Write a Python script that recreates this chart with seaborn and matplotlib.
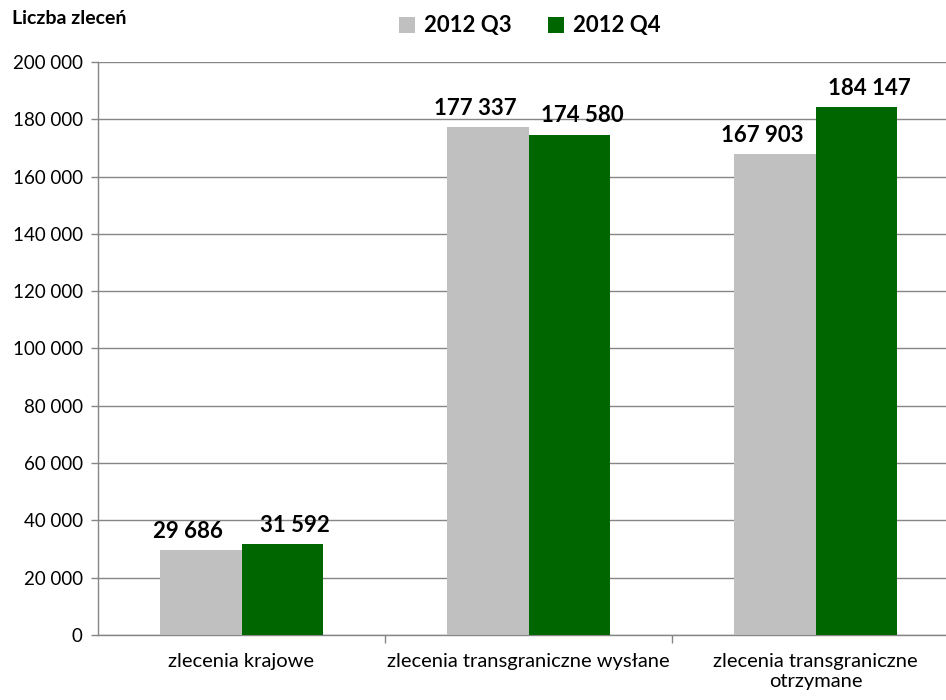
import pandas as pd
import numpy as np
import matplotlib.pyplot as plt
import seaborn as sns
from matplotlib.ticker import FuncFormatter, FixedLocator

categories = ['zlecenia krajowe', 'zlecenia transgraniczne wysłane', 'zlecenia transgraniczne\notrzymane']
q3_values = [29686, 177337, 167903]
q4_values = [31592, 174580, 184147]
series = ['2012 Q3', '2012 Q4']
y_ticks = list(range(0, 200001, 20000))

sns.set_style('white')
plt.rcParams['font.family'] = ['Lato', 'DejaVu Sans']
plt.rcParams['text.color'] = 'black'
plt.rcParams['xtick.color'] = 'black'
plt.rcParams['ytick.color'] = 'black'

df = pd.DataFrame({
    'kategoria': categories * 2,
    'okres': [series[0]] * 3 + [series[1]] * 3,
    'liczba': q3_values + q4_values,
})

fig = plt.figure(figsize=(9.46, 7.0), dpi=100)
# obszar wykresu wychodzi poza prawą krawędź, jak w oryginale
ax = fig.add_axes([98 / 946, 65 / 700, 861 / 946, 573 / 700])

sns.barplot(data=df, x='kategoria', y='liczba', hue='okres',
            palette=['#C0C0C0', '#006600'], width=0.57, gap=0,
            saturation=1, linewidth=0, ax=ax, legend=True, zorder=3)

ax.set_ylim(0, 200000)
ax.set_xlim(-0.5, 2.5)
ax.yaxis.set_major_locator(FixedLocator(y_ticks))
ax.yaxis.set_major_formatter(FuncFormatter(lambda v, p: f'{int(v):,}'.replace(',', ' ')))
ax.grid(axis='y', color='#868686', linewidth=1, zorder=0)
ax.set_axisbelow(True)
ax.set_xlabel('')
ax.set_ylabel('')

for s in ['top', 'right']:
    ax.spines[s].set_visible(False)
for s in ['left', 'bottom']:
    ax.spines[s].set_color('#868686')
    ax.spines[s].set_linewidth(1)

ax.tick_params(axis='y', which='major', left=True, length=5, width=1, color='#868686',
               labelsize=13.5, pad=6, labelcolor='black')
ax.tick_params(axis='x', which='major', length=0, labelsize=14.5, pad=13, labelcolor='black')
ax.xaxis.set_minor_locator(FixedLocator([0.5, 1.5]))
ax.tick_params(axis='x', which='minor', bottom=True, length=6, width=1, color='#868686')

# etykiety wartości, lekko rozsunięte na boki jak w Excelu
for cont, dx in zip(ax.containers, [-9, 9]):
    for bar, v in zip(cont, cont.datavalues):
        ax.annotate(f'{int(v):,}'.replace(',', ' '),
                    (bar.get_x() + bar.get_width() / 2, bar.get_height()),
                    xytext=(dx, 6), textcoords='offset points',
                    ha='center', va='bottom', fontsize=16, fontweight='bold')

handles, labels = ax.get_legend_handles_labels()
ax.legend_.remove()
fig.legend(handles, labels, loc='center', bbox_to_anchor=(0.56, 0.963), ncol=2,
           frameon=False, prop={'size': 16, 'weight': 'bold'},
           handlelength=0.75, handleheight=0.75, handletextpad=0.4, columnspacing=1.6)

fig.text(12 / 946, 1 - 18 / 700, 'Liczba zleceń', fontsize=14, fontweight='bold', va='center')

fig.savefig('out.png', dpi=100)
